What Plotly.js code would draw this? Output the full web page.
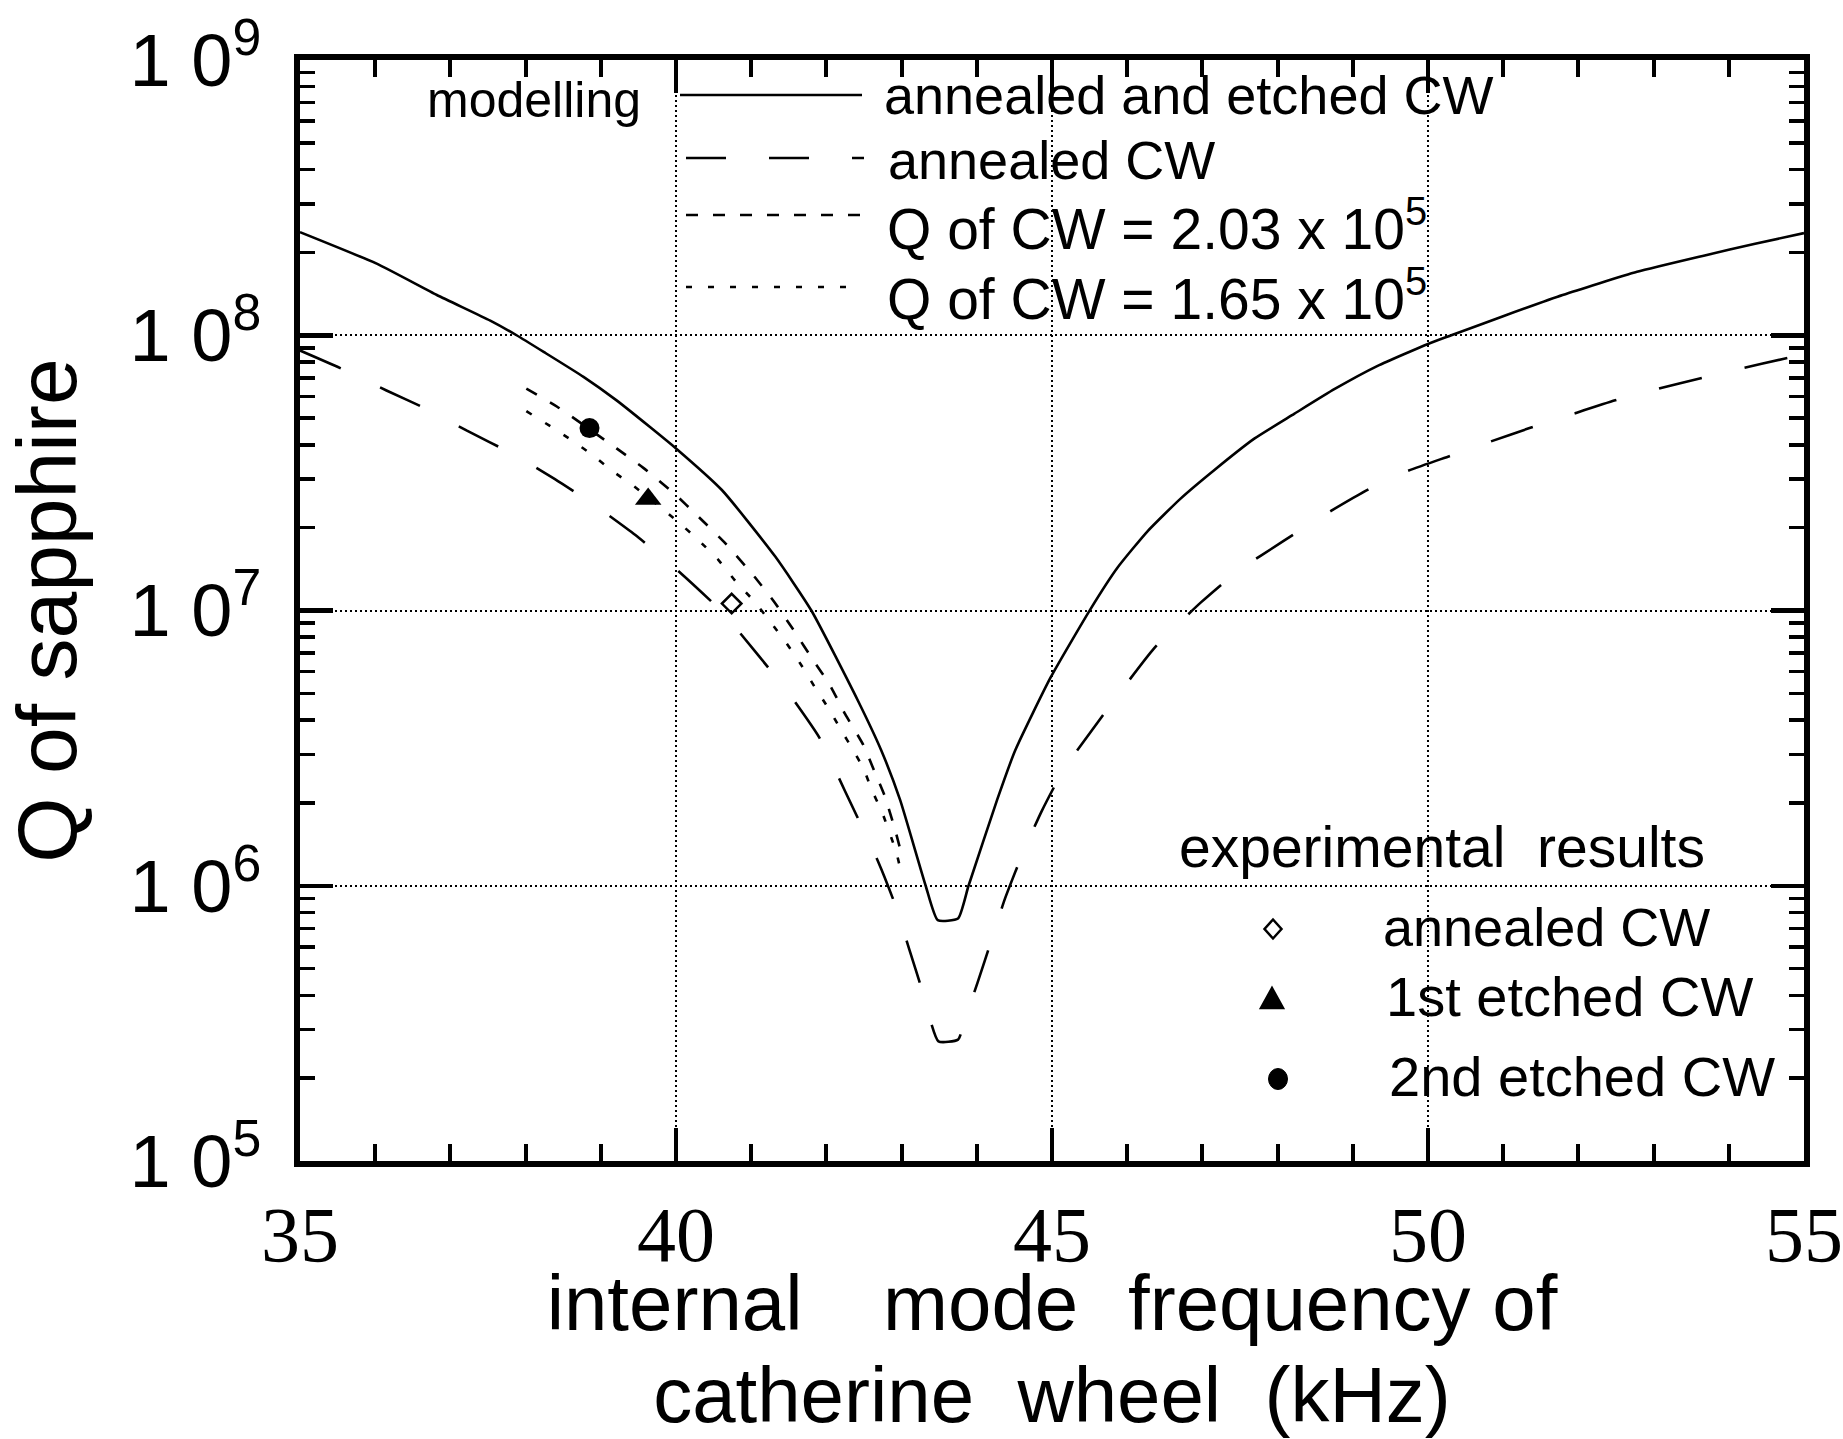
<!DOCTYPE html>
<html><head><meta charset="utf-8">
<script src="https://cdn.plot.ly/plotly-3.0.1.min.js"></script>
<style>html,body{margin:0;padding:0;background:#fff;} #chart{width:1843px;height:1439px;}</style>
</head><body><div id="chart"></div>
<script>
// ---- data ----
const solidX = [35.0, 36.02, 36.82, 37.53, 37.88, 38.24, 38.77, 39.21, 39.65, 40.0, 40.61, 41.32, 41.8, 42.42, 42.73, 42.98, 43.32, 43.48, 43.75, 43.89, 44.27, 44.51, 44.98, 45.51, 45.87, 46.27, 46.71, 47.16, 47.69, 48.22, 48.76, 49.33, 50.0, 50.31, 50.99, 51.79, 52.78, 53.68, 54.35, 55.0];
const solidQ = [2.37e8, 1.82e8, 1.40e8, 1.13e8, 1.0e8, 8.7e7, 7.06e7, 5.8e7, 4.65e7, 3.88e7, 2.74e7, 1.57e7, 1.0e7, 4.7e6, 3.1e6, 2.05e6, 1.0e6, 7.5e5, 7.6e5, 1.0e6, 2.05e6, 3.1e6, 5.7e6, 1.01e7, 1.43e7, 1.94e7, 2.55e7, 3.24e7, 4.21e7, 5.18e7, 6.38e7, 7.74e7, 9.3e7, 1.0e8, 1.17e8, 1.40e8, 1.70e8, 1.95e8, 2.15e8, 2.35e8];

const annealX = [35.0, 35.58, 36.15, 36.68, 37.22, 37.83, 38.39, 38.93, 39.46, 40.02, 40.61, 41.09, 41.5, 41.91, 42.25, 42.69, 42.91, 43.1, 43.27, 43.49, 43.75, 43.85, 44.01, 44.2, 44.37, 44.61, 44.86, 45.16, 46.36, 46.98, 47.47, 48.08, 48.59, 49.17, 49.67, 50.3, 50.82, 51.35, 51.91, 52.49, 53.07, 53.64, 54.16, 54.72, 55.0];
const annealQ = [8.8e7, 7.5e7, 6.3e7, 5.4e7, 4.5e7, 3.7e7, 3.0e7, 2.4e7, 1.88e7, 1.40e7, 9.9e6, 6.9e6, 5.0e6, 3.44e6, 2.2e6, 1.22e6, 8.6e5, 5.9e5, 4.2e5, 2.72e5, 2.76e5, 3.3e5, 4.45e5, 6.4e5, 8.9e5, 1.31e6, 1.86e6, 2.65e6, 7.3e6, 1.07e7, 1.39e7, 1.79e7, 2.2e7, 2.72e7, 3.17e7, 3.65e7, 4.1e7, 4.6e7, 5.16e7, 5.8e7, 6.4e7, 7.0e7, 7.57e7, 8.2e7, 8.5e7];

const cw203X = [38.01, 38.42, 39.21, 39.57, 39.97, 40.30, 40.66, 41.04, 41.30, 41.55, 41.84, 42.04, 42.25, 42.49, 42.64, 42.77, 42.91, 43.02];
const cw203Q = [6.4e7, 5.5e7, 3.88e7, 3.29e7, 2.67e7, 2.19e7, 1.75e7, 1.33e7, 1.08e7, 8.6e6, 6.5e6, 5.4e6, 4.2e6, 3.25e6, 2.6e6, 2.14e6, 1.61e6, 1.24e6];

const cw165X = [38.01, 38.34, 38.61, 38.89, 39.17, 39.44, 40.01, 40.29, 40.56, 40.80, 41.04, 41.27, 41.47, 41.68, 41.84, 42.03, 42.19, 42.35, 42.50, 42.60, 42.74, 42.93, 43.01];
const cw165Q = [5.3e7, 4.65e7, 4.16e7, 3.67e7, 3.19e7, 2.83e7, 2.12e7, 1.81e7, 1.53e7, 1.27e7, 1.08e7, 8.98e6, 7.6e6, 6.25e6, 5.3e6, 4.4e6, 3.7e6, 3.13e6, 2.64e6, 2.24e6, 1.85e6, 1.32e6, 1.07e6];

const expNames = ['annealed CW', '1st etched CW', '2nd etched CW'];
const expX = [40.74, 39.63, 38.85];
const expQ = [1.06e7, 2.54e7, 4.6e7];

const modelNames = ['annealed and etched CW', 'annealed CW', 'Q of CW = 2.03 x 10<sup>5</sup>', 'Q of CW = 1.65 x 10<sup>5</sup>'];

const xTickVals = [35, 40, 45, 50, 55];
const yTickVals = [1e5, 1e6, 1e7, 1e8, 1e9];
const yTickText = ['1 0<sup>5</sup>', '1 0<sup>6</sup>', '1 0<sup>7</sup>', '1 0<sup>8</sup>', '1 0<sup>9</sup>'];

const xTitleLines = ['internal\u00a0\u00a0\u00a0\u2009mode\u00a0\u00a0\u200afrequency\u00a0of', 'catherine\u00a0\u00a0wheel\u00a0\u00a0(kHz)'];

// ---- styles ----
const W = 1843, H = 1439;
const M = {l: 300, r: 39, t: 60, b: 278};
const PW = W - M.l - M.r, PH = H - M.t - M.b;
const px = v => (v - M.l) / PW;           // pixel x -> paper
const py = v => (H - M.b - v) / PH;       // pixel y -> paper
const SANS = 'Liberation Sans, Arial, Helvetica, sans-serif';
const SERIF = 'Liberation Serif, Times New Roman, serif';
const LW = 2.6;
const DASH_LONG = '44px,44px';
const DASH_SHORT = '12px,15px';
const DASH_DOT = '6px,16px';
const SMOOTH = {shape: 'spline', smoothing: 0.5};

const traces = [
  {x: solidX, y: solidQ, mode: 'lines', name: modelNames[0], line: Object.assign({color: '#000', width: LW}, SMOOTH)},
  {x: annealX, y: annealQ, mode: 'lines', name: modelNames[1], line: Object.assign({color: '#000', width: LW, dash: DASH_LONG}, SMOOTH)},
  {x: cw203X, y: cw203Q, mode: 'lines', name: modelNames[2], line: Object.assign({color: '#000', width: LW, dash: DASH_SHORT}, SMOOTH)},
  {x: cw165X, y: cw165Q, mode: 'lines', name: modelNames[3], line: Object.assign({color: '#000', width: LW, dash: DASH_DOT}, SMOOTH)},
  {x: [expX[0]], y: [expQ[0]], mode: 'markers', name: expNames[0], marker: {symbol: 'diamond-open', size: 15, color: '#000', line: {width: 2.5, color: '#000'}}},
  {x: [expX[1]], y: [expQ[1]], mode: 'markers', name: expNames[1], marker: {symbol: 'triangle-up', size: 23, color: '#000'}},
  {x: [expX[2]], y: [expQ[2]], mode: 'markers', name: expNames[2], marker: {symbol: 'circle', size: 20, color: '#000'}}
];

function ann(text, xpx, basePx, size, extra) {
  return Object.assign({
    text: text, xref: 'paper', yref: 'paper',
    x: px(xpx), y: py(basePx + 0.212 * size + 1),
    xanchor: 'left', yanchor: 'bottom', showarrow: false,
    font: {family: SANS, size: size, color: '#000'}
  }, extra || {});
}
function hline(x0, x1, y, dash) {
  return {type: 'line', xref: 'paper', yref: 'paper', x0: px(x0), x1: px(x1), y0: py(y), y1: py(y),
          line: {color: '#000', width: LW, dash: dash || 'solid'}};
}
function pixShape(cx, cy, path, fill) {
  return {type: 'path', xref: 'paper', yref: 'paper', xsizemode: 'pixel', ysizemode: 'pixel',
          xanchor: px(cx), yanchor: py(cy), path: path,
          fillcolor: fill ? '#000' : 'rgba(0,0,0,0)', line: {color: '#000', width: 2.5}};
}

const annotations = [
  ann('modelling', 425, 118, 50),
  ann(modelNames[0], 882, 115, 54),
  ann(modelNames[1], 886, 180, 54),
  ann(modelNames[2], 885, 250, 57),
  ann(modelNames[3], 885, 320, 57),
  ann('experimental\u00a0 results', 1177, 868, 57),
  ann(expNames[0], 1381, 947, 54),
  ann(expNames[1], 1384, 1017, 56),
  ann(expNames[2], 1387, 1097, 56)
];

const shapes = [
  hline(680, 862, 95, 'solid'),
  hline(686, 864, 158, '40px,43px'),
  hline(686, 864, 215, DASH_SHORT),
  hline(686, 862, 287, DASH_DOT),
  pixShape(1273, 929, 'M0,9.5 L8.5,0 L0,-9.5 L-8.5,0 Z', false),
  pixShape(1272, 1000, 'M-11,-8 L11,-8 L0,12 Z', true),
  {type: 'circle', xref: 'paper', yref: 'paper', xsizemode: 'pixel', ysizemode: 'pixel',
   xanchor: px(1278), yanchor: py(1079), x0: -9.5, x1: 9.5, y0: -10.5, y1: 10.5,
   fillcolor: '#000', line: {color: '#000', width: 1}}
];

const big = s => '<span style="font-size:78px">' + s + '</span>';

const layout = {
  width: W, height: H, margin: M,
  paper_bgcolor: '#fff', plot_bgcolor: '#fff',
  showlegend: false, hovermode: false,
  font: {family: SANS, color: '#000'},
  xaxis: {
    range: [35, 55], tickmode: 'array', tickvals: xTickVals, ticktext: xTickVals.map(String),
    ticks: 'inside', ticklen: 33, tickwidth: 4.5, tickcolor: '#000',
    showline: true, linewidth: 6, linecolor: '#000', mirror: 'allticks',
    showgrid: true, gridcolor: '#000', gridwidth: 2, griddash: '2px,3px', zeroline: false,
    tickfont: {family: SERIF, size: 78, color: '#000'}, ticklabelstandoff: 0,
    minor: {dtick: 1, ticks: 'inside', ticklen: 17, tickwidth: 4, tickcolor: '#000', showgrid: false},
    title: {text: xTitleLines.map(big).join('<br>'),
            font: {family: SANS, size: 71, color: '#000'}, standoff: 60},
    automargin: false
  },
  yaxis: {
    type: 'log', range: [5, 9], tickmode: 'array', tickvals: yTickVals, ticktext: yTickText,
    ticks: 'inside', ticklen: 33, tickwidth: 4.5, tickcolor: '#000',
    showline: true, linewidth: 6, linecolor: '#000', mirror: 'allticks',
    showgrid: true, gridcolor: '#000', gridwidth: 2, griddash: '2px,3px', zeroline: false,
    tickfont: {family: SANS, size: 74, color: '#000'}, ticklabelstandoff: 18,
    minor: {dtick: 'D1', ticks: 'inside', ticklen: 15, tickwidth: 3.5, tickcolor: '#000', showgrid: false},
    title: {text: 'Q of sapphire', font: {family: SANS, size: 84, color: '#000'}, standoff: 64},
    automargin: false
  },
  annotations: annotations,
  shapes: shapes
};

Plotly.newPlot('chart', traces, layout, {displayModeBar: false, staticPlot: true});
</script>
</body></html>
